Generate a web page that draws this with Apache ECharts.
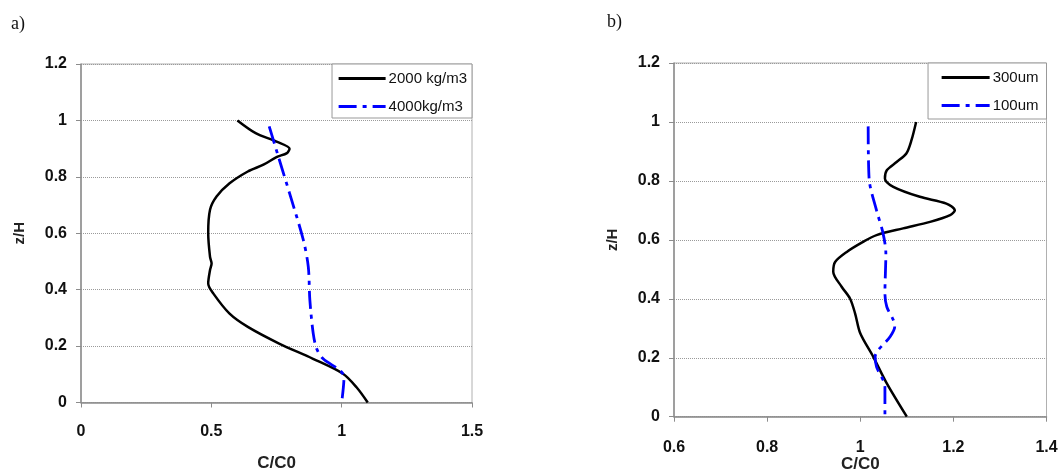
<!DOCTYPE html>
<html>
<head>
<meta charset="utf-8">
<script src="https://cdn.jsdelivr.net/npm/echarts@6/dist/echarts.min.js"></script>
<style>
  html, body { margin: 0; padding: 0; background: #fff; }
  #main { width: 1064px; height: 473px; }
</style>
</head>
<body>
<div id="main"></div>
<script>
// panel a) - density
var aLightC = [0.60, 0.67, 0.75, 0.80, 0.79, 0.75, 0.70, 0.64, 0.57, 0.52, 0.495, 0.488, 0.495, 0.501, 0.495, 0.488, 0.508, 0.57, 0.64, 0.76, 0.89, 1.005, 1.057, 1.10];
var aLightZ = [1.00, 0.955, 0.925, 0.90, 0.884, 0.870, 0.843, 0.819, 0.777, 0.730, 0.683, 0.600, 0.516, 0.493, 0.470, 0.422, 0.386, 0.315, 0.268, 0.209, 0.155, 0.102, 0.054, 0.0];
var aHeavyC = [0.722, 0.757, 0.80, 0.853, 0.872, 0.878, 0.891, 0.904, 0.929, 0.993, 1.009, 1.0];
var aHeavyZ = [0.979, 0.872, 0.742, 0.576, 0.481, 0.363, 0.244, 0.191, 0.155, 0.114, 0.09, 0.0];

// panel b) - particle size
var bCoarseC = [1.12, 1.11, 1.099, 1.078, 1.057, 1.053, 1.071, 1.128, 1.185, 1.203, 1.193, 1.15, 1.092, 1.035, 1.006, 0.971, 0.946, 0.942, 0.96, 0.978, 0.989, 1.0, 1.028, 1.057, 1.10];
var bCoarseZ = [1.0, 0.938, 0.893, 0.864, 0.836, 0.808, 0.780, 0.746, 0.723, 0.700, 0.684, 0.661, 0.639, 0.616, 0.593, 0.559, 0.525, 0.492, 0.441, 0.401, 0.350, 0.283, 0.203, 0.113, 0.0];
var bFineC = [1.017, 1.019, 1.035, 1.049, 1.055, 1.053, 1.057, 1.071, 1.074, 1.064, 1.032, 1.035, 1.053, 1.053];
var bFineZ = [0.985, 0.808, 0.70, 0.622, 0.554, 0.418, 0.373, 0.328, 0.305, 0.271, 0.203, 0.169, 0.102, 0.0];

var aTicksX = [0, 0.5, 1, 1.5];
var bTicksX = [0.6, 0.8, 1, 1.2, 1.4];

function zip(xs, ys) {
  return xs.map(function (x, i) { return [x, ys[i]]; });
}

var font = 'Liberation Sans, Arial, sans-serif';
var axisGray = '#8c8c8c';

function xAxisOf(idx, ticks, gap, margin) {
  return {
    gridIndex: idx,
    type: 'value',
    min: ticks[0],
    max: ticks[ticks.length - 1],
    interval: ticks[1] - ticks[0],
    name: 'C/C0',
    nameLocation: 'middle',
    nameGap: gap,
    nameMoveOverlap: false,
    nameTextStyle: { fontFamily: font, fontWeight: 'bold', fontSize: 17, color: '#222' },
    axisLine: { show: true, onZero: false, lineStyle: { color: axisGray, width: 1.5 } },
    axisTick: { show: true, length: 5, lineStyle: { color: axisGray } },
    axisLabel: {
      margin: margin, fontFamily: font, fontWeight: 'bold', fontSize: 16, color: '#111',
      formatter: function (v) { return String(Math.round(v * 10) / 10); }
    },
    splitLine: { show: false }
  };
}

function yAxisOf(idx) {
  return {
    gridIndex: idx,
    type: 'value',
    min: 0,
    max: 1.2,
    interval: 0.2,
    name: 'z/H',
    nameLocation: 'middle',
    nameGap: 54,
    nameMoveOverlap: false,
    nameTextStyle: { fontFamily: font, fontWeight: 'bold', fontSize: 15, color: '#222' },
    axisLine: { show: true, onZero: false, lineStyle: { color: axisGray, width: 1.5 } },
    axisTick: { show: true, length: 5, lineStyle: { color: axisGray } },
    axisLabel: {
      margin: 14, fontFamily: font, fontWeight: 'bold', fontSize: 16, color: '#111',
      formatter: function (v) { return String(Math.round(v * 10) / 10); }
    },
    splitLine: { show: true, lineStyle: { color: '#9a9a9a', type: 'dotted', width: 1 } }
  };
}

var blueDash = [18, 6, 4, 6];

var myChart = echarts.init(document.getElementById('main'));
var option = {
  animation: false,
  title: [
    { text: 'a)', left: 6, top: 10, textStyle: { fontFamily: 'Liberation Serif, serif', fontWeight: 'normal', fontSize: 18, color: '#111' } },
    { text: 'b)', left: 602, top: 8, textStyle: { fontFamily: 'Liberation Serif, serif', fontWeight: 'normal', fontSize: 18, color: '#111' } }
  ],
  grid: [
    { left: 81, top: 64, right: 592, bottom: 70.5, show: true, borderColor: '#b0b0b0', borderWidth: 1, containLabel: false, outerBoundsMode: 'none' },
    { left: 674, top: 63, right: 17.5, bottom: 56.3, show: true, borderColor: '#b0b0b0', borderWidth: 1, containLabel: false, outerBoundsMode: 'none' }
  ],
  legend: [
    {
      data: ['2000 kg/m3', '4000kg/m3'],
      orient: 'vertical',
      right: 592, top: 64,
      padding: [7, 5, 4, 5],
      itemGap: 13,
      itemWidth: 47, itemHeight: 14,
      itemStyle: { opacity: 0, borderWidth: 0 },
      lineStyle: { width: 3.2 },
      backgroundColor: '#fff',
      borderColor: '#999', borderWidth: 1,
      textStyle: { fontFamily: font, fontSize: 15, color: '#111', padding: [0, 0, 0, -2] }
    },
    {
      data: ['300um', '100um'],
      orient: 'vertical',
      right: 17.5, top: 63,
      padding: [7, 8, 6, 12],
      itemGap: 13,
      itemWidth: 48, itemHeight: 14,
      itemStyle: { opacity: 0, borderWidth: 0 },
      lineStyle: { width: 3.2 },
      backgroundColor: '#fff',
      borderColor: '#999', borderWidth: 1,
      textStyle: { fontFamily: font, fontSize: 15, color: '#111', padding: [0, 0, 0, -2] }
    }
  ],
  xAxis: [xAxisOf(0, aTicksX, 52, 21), xAxisOf(1, bTicksX, 39, 23)],
  yAxis: [yAxisOf(0), yAxisOf(1)],
  series: [
    {
      name: '2000 kg/m3', type: 'line', xAxisIndex: 0, yAxisIndex: 0,
      data: zip(aLightC, aLightZ), smooth: 0.3, symbol: 'none',
      lineStyle: { color: '#000', width: 2.5 }, itemStyle: { color: '#000' }, z: 3
    },
    {
      name: '4000kg/m3', type: 'line', xAxisIndex: 0, yAxisIndex: 0,
      data: zip(aHeavyC, aHeavyZ), smooth: 0.3, symbol: 'none',
      lineStyle: { color: '#0000ff', width: 2.8, type: blueDash }, itemStyle: { color: '#0000ff' }, z: 4
    },
    {
      name: '300um', type: 'line', xAxisIndex: 1, yAxisIndex: 1,
      data: zip(bCoarseC, bCoarseZ), smooth: 0.3, symbol: 'none',
      lineStyle: { color: '#000', width: 2.5 }, itemStyle: { color: '#000' }, z: 3
    },
    {
      name: '100um', type: 'line', xAxisIndex: 1, yAxisIndex: 1,
      data: zip(bFineC, bFineZ), smooth: 0.3, symbol: 'none',
      lineStyle: { color: '#0000ff', width: 2.8, type: blueDash }, itemStyle: { color: '#0000ff' }, z: 4
    }
  ]
};
myChart.setOption(option);
</script>
</body>
</html>
